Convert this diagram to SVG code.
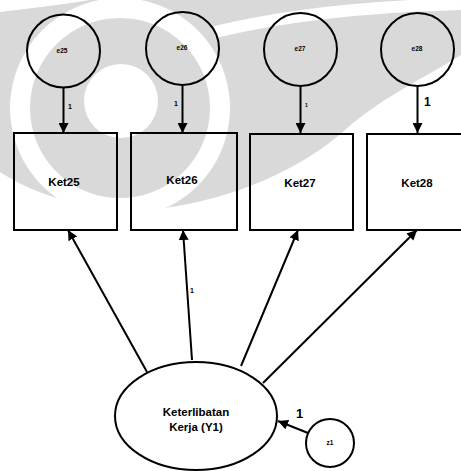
<svg xmlns="http://www.w3.org/2000/svg" width="461" height="471" viewBox="0 0 461 471">
<style>
.n{fill:none;stroke:#000;stroke-width:2}
.c{stroke:#000;stroke-width:2;fill:none}
.t{font-family:"Liberation Sans",Arial,sans-serif;font-weight:bold;fill:#000;text-anchor:middle}
.lbl{font-size:11.5px}
.sm{font-size:6.5px}
.one{font-family:"Liberation Sans",Arial,sans-serif;font-weight:bold;fill:#000}
</style>
<defs>
<marker id="ah" viewBox="0 0 10 10" refX="10" refY="5" markerWidth="5" markerHeight="5" orient="auto" markerUnits="strokeWidth">
<path d="M0,0 L10,5 L0,10 Z" fill="#000"/>
</marker>
</defs>
<rect width="461" height="471" fill="#fff"/>
<g id="watermark">
<path d="M0,0 H461 V55 C430,75 385,95 345,130 C300,170 235,198 165,208 C100,215 40,198 0,172 Z" fill="#d9d9d9"/>
<circle cx="120" cy="108" r="100" fill="none" stroke="#fff" stroke-width="20"/>
<circle cx="121" cy="101" r="37" fill="#fff"/>
<path d="M215,32 C290,14 380,6 461,4" fill="none" stroke="#fff" stroke-width="12"/>
<path d="M0,0 H90 C60,5 30,8 0,12 Z" fill="#fff"/>
</g>
<g id="connectors">
<line class="c" x1="63.5" y1="88" x2="63.5" y2="133" marker-end="url(#ah)"/>
<line class="c" x1="182.5" y1="85" x2="182.5" y2="133" marker-end="url(#ah)"/>
<line class="c" x1="300.5" y1="86" x2="300.5" y2="133" marker-end="url(#ah)"/>
<line class="c" x1="417.5" y1="86" x2="417.5" y2="133" marker-end="url(#ah)"/>
<line class="c" x1="147" y1="372" x2="68" y2="230" marker-end="url(#ah)"/>
<line class="c" x1="192" y1="360" x2="183" y2="230" marker-end="url(#ah)"/>
<line class="c" x1="241" y1="366" x2="298" y2="230" marker-end="url(#ah)"/>
<line class="c" x1="263" y1="383" x2="417" y2="230" marker-end="url(#ah)"/>
<line class="c" x1="308" y1="433" x2="278" y2="421" marker-end="url(#ah)"/>
<text class="one" x="68" y="109" font-size="7">1</text>
<text class="one" x="174" y="106" font-size="7">1</text>
<text class="one" x="305" y="107" font-size="5">1</text>
<text class="one" x="424" y="106" font-size="12">1</text>
<text class="one" x="190" y="293" font-size="7">1</text>
<text class="one" x="296" y="418" font-size="13">1</text>
</g>
<g id="e25"><circle class="n" cx="63.5" cy="51" r="36.5"/><text class="t sm" x="62" y="53">e25</text></g>
<g id="e26"><circle class="n" cx="182.5" cy="48.5" r="36.5"/><text class="t sm" x="182" y="50">e26</text></g>
<g id="e27"><circle class="n" cx="300.5" cy="49.5" r="36.5"/><text class="t sm" x="300" y="51">e27</text></g>
<g id="e28"><circle class="n" cx="417.5" cy="49.5" r="36.5"/><text class="t sm" x="417" y="51">e28</text></g>
<g id="Ket25"><rect class="n" x="14" y="133" width="103" height="97"/><text class="t lbl" x="64" y="186">Ket25</text></g>
<g id="Ket26"><rect class="n" x="131" y="133" width="106" height="97"/><text class="t lbl" x="182" y="184">Ket26</text></g>
<g id="Ket27"><rect class="n" x="250" y="134" width="103" height="96"/><text class="t lbl" x="300" y="187">Ket27</text></g>
<g id="Ket28"><rect class="n" x="367" y="134" width="104" height="96"/><text class="t lbl" x="417" y="187">Ket28</text></g>
<g id="Y1"><ellipse class="n" cx="196" cy="416" rx="81" ry="54" fill="#fff"/><text class="t lbl" x="196" y="416">Keterlibatan</text><text class="t lbl" x="196" y="431">Kerja (Y1)</text></g>
<g id="z1"><circle class="n" cx="330" cy="443" r="24"/><text class="t sm" x="330" y="445">z1</text></g>
</svg>
